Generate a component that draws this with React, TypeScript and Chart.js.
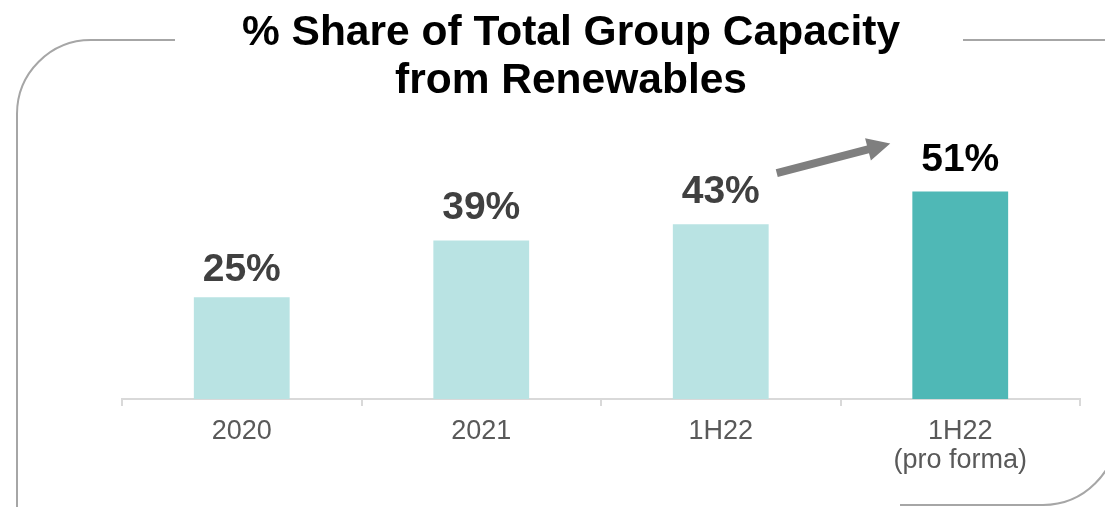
import React, { useEffect, useRef } from "react";
import { Chart, registerables } from "chart.js";

Chart.register(...registerables);

const categories: (string | string[])[] = ["2020", "2021", "1H22", ["1H22", "(pro forma)"]];
const shareValues = [25, 39, 43, 51];
const valueLabels = ["25%", "39%", "43%", "51%"];
const barColors = ["#b9e3e3", "#b9e3e3", "#b9e3e3", "#4fb8b6"];
const labelColors = ["#404040", "#404040", "#404040", "#000000"];
const titleLines = ["% Share of Total Group Capacity", "from Renewables"];

const FONT = '"Liberation Sans", Arial, sans-serif';

const decorPlugin = {
  id: "decor",
  beforeDraw(chart: any) {
    const ctx = chart.ctx;
    ctx.save();
    ctx.strokeStyle = "#a6a6a6";
    ctx.lineWidth = 2;
    const r = 74;
    ctx.beginPath();
    ctx.moveTo(175, 40);
    ctx.lineTo(17 + r, 40);
    ctx.arcTo(17, 40, 17, 40 + r, r);
    ctx.lineTo(17, 520);
    ctx.stroke();
    ctx.beginPath();
    ctx.moveTo(963, 40);
    ctx.lineTo(1120, 40);
    ctx.stroke();
    ctx.beginPath();
    ctx.moveTo(1117, 400);
    ctx.lineTo(1117, 505 - r);
    ctx.arcTo(1117, 505, 1117 - r, 505, r);
    ctx.lineTo(900, 505);
    ctx.stroke();
    ctx.restore();
  },
  afterDatasetsDraw(chart: any) {
    const ctx = chart.ctx;
    const xs = chart.scales.x;
    const ys = chart.scales.y;
    ctx.save();
    ctx.font = `bold 39px ${FONT}`;
    ctx.textAlign = "center";
    ctx.textBaseline = "alphabetic";
    shareValues.forEach((v, i) => {
      ctx.fillStyle = labelColors[i];
      const off = i === 0 ? 16 : 21;
      ctx.fillText(valueLabels[i], xs.getPixelForValue(i), ys.getPixelForValue(v) - off);
    });
    const x0 = xs.getPixelForValue(2) + 56;
    const y0 = ys.getPixelForValue(shareValues[2]) - 51;
    const x1 = xs.getPixelForValue(3) - 70;
    const y1 = ys.getPixelForValue(shareValues[3]) - 48;
    const dx = x1 - x0, dy = y1 - y0;
    const len = Math.hypot(dx, dy);
    const ux = dx / len, uy = dy / len;
    const px = -uy, py = ux;
    const headLen = 23, headHalf = 11.5, shaftHalf = 4;
    const bx = x1 - ux * headLen, by = y1 - uy * headLen;
    ctx.fillStyle = "#7f7f7f";
    ctx.beginPath();
    ctx.moveTo(x0 + px * shaftHalf, y0 + py * shaftHalf);
    ctx.lineTo(bx + px * shaftHalf, by + py * shaftHalf);
    ctx.lineTo(bx + px * headHalf, by + py * headHalf);
    ctx.lineTo(x1, y1);
    ctx.lineTo(bx - px * headHalf, by - py * headHalf);
    ctx.lineTo(bx - px * shaftHalf, by - py * shaftHalf);
    ctx.lineTo(x0 - px * shaftHalf, y0 - py * shaftHalf);
    ctx.closePath();
    ctx.fill();
    ctx.restore();
  },
  afterDraw(chart: any) {
    const ctx = chart.ctx;
    ctx.save();
    ctx.font = `bold 42.5px ${FONT}`;
    ctx.fillStyle = "#000000";
    ctx.textAlign = "center";
    ctx.textBaseline = "alphabetic";
    ctx.fillText(titleLines[0], 571, 45);
    ctx.fillText(titleLines[1], 571, 93);
    ctx.restore();
  },
};

export default function App() {
  const ref = useRef<HTMLCanvasElement | null>(null);
  useEffect(() => {
    document.body.style.margin = "0";
    const chart = new Chart(ref.current as HTMLCanvasElement, {
      type: "bar",
      data: {
        labels: categories as any,
        datasets: [
          {
            data: shareValues,
            backgroundColor: barColors,
            borderWidth: 0,
            barPercentage: 0.4,
            categoryPercentage: 1.0,
          },
        ],
      },
      options: {
        animation: false,
        responsive: false,
        maintainAspectRatio: false,
        layout: { padding: { left: 122, right: 25, top: 155, bottom: 0 } },
        plugins: { legend: { display: false }, title: { display: false }, tooltip: { enabled: false } },
        scales: {
          x: {
            grid: {
              offset: true,
              drawOnChartArea: false,
              drawTicks: true,
              tickLength: 7,
              color: "#d9d9d9",
              lineWidth: 2,
            },
            border: { display: true, color: "#d9d9d9", width: 2 },
            ticks: {
              color: "#595959",
              font: { family: FONT, size: 27, lineHeight: 1.04 },
              padding: 12,
              maxRotation: 0,
              autoSkip: false,
            },
            afterFit: (scale: any) => {
              scale.height = 108;
            },
          },
          y: { display: false, min: 0, max: 60 },
        },
      },
      plugins: [decorPlugin],
    });
    return () => chart.destroy();
  }, []);
  return (
    <div style={{ position: "absolute", left: 0, top: 0, width: 1105, height: 507, background: "#fff" }}>
      <canvas ref={ref} width={1105} height={507} style={{ display: "block", width: 1105, height: 507 }} />
    </div>
  );
}
